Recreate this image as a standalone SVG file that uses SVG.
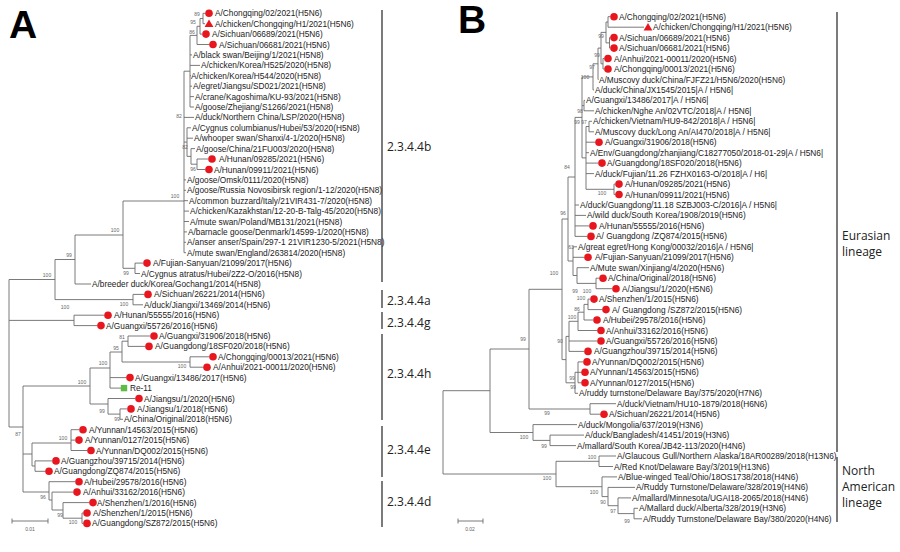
<svg xmlns="http://www.w3.org/2000/svg" xmlns:xlink="http://www.w3.org/1999/xlink" width="900" height="552" viewBox="0 0 900 552">
<style>
.t{font-family:"Liberation Sans",Arial,sans-serif;font-size:8.3px;fill:#222}
.b{font-family:"Liberation Sans",Arial,sans-serif;font-size:5px;fill:#666;text-anchor:middle}
.c{font-family:"Open Sans",sans-serif;font-size:12px;fill:#222}
.L{font-family:"Liberation Sans",Arial,sans-serif;font-weight:bold;font-size:39px;fill:#000}
.tree{fill:none;stroke:#6b6b6b;stroke-width:0.9}
.bar{stroke:#333;stroke-width:1.3}
</style>
<defs>
<circle id="dot" r="3.8" fill="#e8161e"/>
<path id="tri" d="M0,-4.3L4.4,3.3L-4.4,3.3Z" fill="#e8161e"/>
<rect id="sq" x="-3.2" y="-3.2" width="6.4" height="6.4" fill="#5dbb46"/>
</defs>
<rect width="900" height="552" fill="#fff"/>
<text class="L" x="9" y="38">A</text>
<text class="L" x="458" y="33">B</text>

<g id="connectors" class="tree">
<path d="M203,13.3V23.7M203,13.3H205.2M203,23.7H205M200,18.5V34.1M200,18.5H203M200,34.1H202.2M197,26.3V44.5M197,26.3H200M197,44.5H209.2M190,35.4V107M190,35.4H197M190,54.9H192M190,65.4H200M190,75.8H191M190,86.2H192M190,96.6H194M190,107H194M184,71.2V252.7M184,71.2H190M184,117.4H194M184,142.1H187M184,179.9H186M184,190.3H186M184,200.7H188M184,211.1H189M184,221.5H189M184,231.9H187M184,242.3H186M184,252.7H186M187,127.8V156.4M187,127.8H191M187,138.2H193M187,156.4H191M191,148.6V164.2M191,148.6H195M191,164.2H197M197,159V169.5M197,159H208.2M197,169.5H205.2"/>
<path d="M123,201H184M123,201V268.3M123,268.3H135M135,263.1V273.5M135,263.1H143.2M135,273.5H140M75,235V284M75,235H123M75,284H91M55,259.5V299.6M55,259.5H75M55,299.6H133M133,294.4V304.8M133,294.4H144.2M133,304.8H143M9,279.5V427M9,279.5H55M9,320.4H74M9,427H23M74,315.2V325.6M74,315.2H104.2M74,325.6H97.2"/>
<path d="M23,386V492M23,386H90M23,454H32M23,492H49M90,368V404M90,368H110M90,404H108M110,352V388.1M110,352H122M110,377.6H126.2M110,388.1H121M122,341.2V362M122,341.2H128M122,362H190M128,336V346.4M128,336H150.2M128,346.4H145.2M190,356.8V367.2M190,356.8H209.2M190,367.2H203.2M108,398.5V414.1M108,398.5H135.2M108,414.1H120M120,408.9V419.3M120,408.9H127.2M120,419.3H123M32,443V466M32,443H71M32,466H35M71,429.7V450.5M71,429.7H79.2M71,440.1H75.2M71,450.5H87.2M35,460.9V471.3M35,460.9H52.2M35,471.3H45.2M49,481.7V500M49,481.7H75.2M49,500H52M52,492.1V510M52,492.1H73.2M52,510H63M63,502.6V518.2M63,502.6H89.2M63,518.2H82M82,513V523.4M82,513H83.2M82,523.4H83.2"/>
<path d="M12,521H48M12,518.5V523.5M48,518.5V523.5"/>
<path d="M608,16.7V27.2M608,16.7H610.2M608,27.2H644M609.5,37.6V48.1M609.5,37.6H610.2M609.5,48.1H610.2M606,22V42.9M606,22H608M606,42.9H609.5M603,58.5V69M603,58.5H604.2M603,69H604.2M601,32.4V63.8M601,32.4H606M601,63.8H603M598,48.1V79.5M598,48.1H601M598,79.5H598.5M593,63.8V89.9M593,63.8H598M593,89.9H594M584,100.4V110.8M584,100.4H585M584,110.8H594M589,121.3V131.8M589,121.3H592M589,131.8H594M614,184.1V194.5M614,184.1H615.2M614,194.5H615.2M586,126.5V189.3M586,126.5H589M586,142.2H595.2M586,152.7H589M586,163.1H598.2M586,173.6H594M586,189.3H614M582,76.9V157.9M582,76.9H593M582,105.6H584M582,157.9H586"/>
<path d="M575,117.4V236.4M575,117.4H582M575,205H579M575,215.4H586M575,225.9H589.2M575,236.4H587.2M577,267.7V283.4M577,267.7H589M577,283.4H596M596,278.2V288.7M596,278.2H599.2M596,288.7H612.2M573,246.8V275.5M573,246.8H577M573,257.3H584.2M573,275.5H577M568,177V261M568,177H575M568,261H573"/>
<path d="M588,299.1V309.6M588,299.1H590.2M588,309.6H602.2M584,304.4V320M584,304.4H588M584,320H593.2M578,312.2V330.5M578,312.2H584M578,330.5H597.2M569,321.3V351.4M569,321.3H578M569,341H597.2M569,351.4H584.2M578,361.9V382.8M578,361.9H583.2M578,372.3H581.2M578,382.8H581.2M575,372.3V393.3M575,372.3H578M575,393.3H578M566,336.4V382.8M566,336.4H569M566,382.8H575M562,219V359.6M562,219H568M562,359.6H566"/>
<path d="M590,403.7V414.2M590,403.7H616M590,414.2H600.2M529,289.3V409M529,289.3H562M529,409H590M550,435.1V445.6M550,435.1H584M550,445.6H576M533,424.6V440.4M533,424.6H577M533,440.4H550M490,349V432.5M490,349H529M490,432.5H533M599,456V466.5M599,456H616M599,466.5H613M634,508.3V518.8M634,508.3H638M634,518.8H642M618,497.9V513.6M618,497.9H631M618,513.6H634M608,487.4V505.7M608,487.4H635M608,505.7H618M602,476.9V496.6M602,476.9H617M602,496.6H608M556,461.3V486.7M556,461.3H599M556,486.7H602M443,390.7V474M443,390.7H490M443,474H556"/>
<path d="M458,521H483M458,518.5V523.5M483,518.5V523.5"/>
</g>

<g id="bootstrap-a">
<text class="b" x="197" y="15.5">89</text>
<text class="b" x="193" y="23.5">95</text>
<text class="b" x="192" y="33.5">86</text>
<text class="b" x="179" y="117.5">82</text>
<text class="b" x="185" y="148.5">82</text>
<text class="b" x="193" y="170.5">96</text>
<text class="b" x="175" y="197.5">100</text>
<text class="b" x="115" y="231.5">100</text>
<text class="b" x="69" y="256.5">99</text>
<text class="b" x="47" y="276.5">100</text>
<text class="b" x="126" y="274.5">99</text>
<text class="b" x="124" y="305.5">100</text>
<text class="b" x="65" y="308.5">100</text>
<text class="b" x="122" y="338.5">81</text>
<text class="b" x="116" y="349.5">95</text>
<text class="b" x="182" y="367.5">100</text>
<text class="b" x="103" y="364.5">100</text>
<text class="b" x="82" y="383.5">100</text>
<text class="b" x="102" y="412.5">99</text>
<text class="b" x="117" y="420.5">99</text>
<text class="b" x="18" y="435.5">87</text>
<text class="b" x="63" y="439.5">100</text>
<text class="b" x="43" y="498.5">96</text>
<text class="b" x="60" y="516.5">99</text>
<text class="b" x="73" y="523.5">100</text>
<text class="b" x="30" y="531">0.01</text>
</g>

<g id="bootstrap-b">
<text class="b" x="601" y="37.5">99</text>
<text class="b" x="597" y="56.5">99</text>
<text class="b" x="592" y="68.5">97</text>
<text class="b" x="585" y="78.5">100</text>
<text class="b" x="580" y="112.5">98</text>
<text class="b" x="577" y="123.5">99</text>
<text class="b" x="584" y="123.5">97</text>
<text class="b" x="567" y="168.5">84</text>
<text class="b" x="602" y="194.5">100</text>
<text class="b" x="563" y="214.5">96</text>
<text class="b" x="571" y="248.5">63</text>
<text class="b" x="554" y="274.5">100</text>
<text class="b" x="575" y="292.5">99</text>
<text class="b" x="587" y="292.5">100</text>
<text class="b" x="581" y="299.5">100</text>
<text class="b" x="577" y="310.5">86</text>
<text class="b" x="572" y="318.5">100</text>
<text class="b" x="560" y="342.5">90</text>
<text class="b" x="572" y="379.5">99</text>
<text class="b" x="573" y="388.5">99</text>
<text class="b" x="523" y="340.5">99</text>
<text class="b" x="547" y="414.5">99</text>
<text class="b" x="524" y="438.5">100</text>
<text class="b" x="544" y="447.5">99</text>
<text class="b" x="592" y="458.5">100</text>
<text class="b" x="547" y="479.5">100</text>
<text class="b" x="594" y="493.5">100</text>
<text class="b" x="603" y="503.5">90</text>
<text class="b" x="613" y="512.5">97</text>
<text class="b" x="627" y="522.5">99</text>
<text class="b" x="470" y="531">0.02</text>
</g>

<g id="tips-a">
<g id="a01"><use href="#dot" x="209" y="13.3"/><text class="t" x="215" y="16.3">A/Chongqing/02/2021(H5N6)</text></g>
<g id="a02"><use href="#tri" x="209" y="23.7"/><text class="t" x="215" y="26.7">A/chicken/Chongqing/H1/2021(H5N6)</text></g>
<g id="a03"><use href="#dot" x="206" y="34.1"/><text class="t" x="212" y="37.1">A/Sichuan/06689/2021(H5N6)</text></g>
<g id="a04"><use href="#dot" x="213" y="44.5"/><text class="t" x="219" y="47.5">A/Sichuan/06681/2021(H5N6)</text></g>
<g id="a05"><text class="t" x="193" y="57.9">A/black swan/Beijing/1/2021(H5N8)</text></g>
<g id="a06"><text class="t" x="201" y="68.4">A/chicken/Korea/H525/2020(H5N8)</text></g>
<g id="a07"><text class="t" x="191" y="78.8">A/chicken/Korea/H544/2020(H5N8)</text></g>
<g id="a08"><text class="t" x="193" y="89.2">A/egret/Jiangsu/SD021/2021(H5N8)</text></g>
<g id="a09"><text class="t" x="195" y="99.6">A/crane/Kagoshima/KU-93/2021(H5N8)</text></g>
<g id="a10"><text class="t" x="195" y="110">A/goose/Zhejiang/S1266/2021(H5N8)</text></g>
<g id="a11"><text class="t" x="195" y="120.4">A/duck/Northern China/LSP/2020(H5N8)</text></g>
<g id="a12"><text class="t" x="192" y="130.8">A/Cygnus columbianus/Hubei/53/2020(H5N8)</text></g>
<g id="a13"><text class="t" x="194" y="141.2">A/whooper swan/Shanxi/4-1/2020(H5N8)</text></g>
<g id="a14"><text class="t" x="196" y="151.6">A/goose/China/21FU003/2020(H5N8)</text></g>
<g id="a15"><use href="#dot" x="212" y="159"/><text class="t" x="219" y="162">A/Hunan/09285/2021(H5N6)</text></g>
<g id="a16"><use href="#dot" x="209" y="169.5"/><text class="t" x="214" y="172.5">A/Hunan/09911/2021(H5N6)</text></g>
<g id="a17"><text class="t" x="187" y="182.9">A/goose/Omsk/0111/2020(H5N8)</text></g>
<g id="a18"><text class="t" x="187" y="193.3">A/goose/Russia Novosibirsk region/1-12/2020(H5N8)</text></g>
<g id="a19"><text class="t" x="189" y="203.7">A/common buzzard/Italy/21VIR431-7/2020(H5N8)</text></g>
<g id="a20"><text class="t" x="190" y="214.1">A/chicken/Kazakhstan/12-20-B-Talg-45/2020(H5N8)</text></g>
<g id="a21"><text class="t" x="190" y="224.5">A/mute swan/Poland/MB131/2021(H5N8)</text></g>
<g id="a22"><text class="t" x="188" y="234.9">A/barnacle goose/Denmark/14599-1/2020(H5N8)</text></g>
<g id="a23"><text class="t" x="187" y="245.3">A/anser anser/Spain/297-1 21VIR1230-5/2021(H5N8)</text></g>
<g id="a24"><text class="t" x="187" y="255.7">A/mute swan/England/263814/2020(H5N8)</text></g>
<g id="a25"><use href="#dot" x="147" y="263.1"/><text class="t" x="153" y="266.1">A/Fujian-Sanyuan/21099/2017(H5N6)</text></g>
<g id="a26"><text class="t" x="141" y="276.5">A/Cygnus atratus/Hubei/2Z2-O/2016(H5N8)</text></g>
<g id="a27"><text class="t" x="92" y="287">A/breeder duck/Korea/Gochang1/2014(H5N8)</text></g>
<g id="a28"><use href="#dot" x="148" y="294.4"/><text class="t" x="154" y="297.4">A/Sichuan/26221/2014(H5N6)</text></g>
<g id="a29"><text class="t" x="144" y="307.8">A/duck/Jiangxi/13469/2014(H5N6)</text></g>
<g id="a30"><use href="#dot" x="108" y="315.2"/><text class="t" x="114" y="318.2">A/Hunan/55555/2016(H5N6)</text></g>
<g id="a31"><use href="#dot" x="101" y="325.6"/><text class="t" x="106" y="328.6">A/Guangxi/55726/2016(H5N6)</text></g>
<g id="a32"><use href="#dot" x="154" y="336"/><text class="t" x="159" y="339">A/Guangxi/31906/2018(H5N6)</text></g>
<g id="a33"><use href="#dot" x="149" y="346.4"/><text class="t" x="155" y="349.4">A/Guangdong/18SF020/2018(H5N6)</text></g>
<g id="a34"><use href="#dot" x="213" y="356.8"/><text class="t" x="218" y="359.8">A/Chongqing/00013/2021(H5N6)</text></g>
<g id="a35"><use href="#dot" x="207" y="367.2"/><text class="t" x="213" y="370.2">A/Anhui/2021-00011/2020(H5N6)</text></g>
<g id="a36"><use href="#dot" x="130" y="377.6"/><text class="t" x="135" y="380.6">A/Guangxi/13486/2017(H5N6)</text></g>
<g id="a37"><use href="#sq" x="124" y="388.1"/><text class="t" x="130" y="391.1">Re-11</text></g>
<g id="a38"><use href="#dot" x="139" y="398.5"/><text class="t" x="144" y="401.5">A/Jiangsu/1/2020(H5N6)</text></g>
<g id="a39"><use href="#dot" x="131" y="408.9"/><text class="t" x="137" y="411.9">A/Jiangsu/1/2018(H5N6)</text></g>
<g id="a40"><text class="t" x="124" y="422.3">A/China/Original/2018(H5N6)</text></g>
<g id="a41"><use href="#dot" x="83" y="429.7"/><text class="t" x="89" y="432.7">A/Yunnan/14563/2015(H5N6)</text></g>
<g id="a42"><use href="#dot" x="79" y="440.1"/><text class="t" x="85" y="443.1">A/Yunnan/0127/2015(H5N6)</text></g>
<g id="a43"><use href="#dot" x="91" y="450.5"/><text class="t" x="96" y="453.5">A/Yunnan/DQ002/2015(H5N6)</text></g>
<g id="a44"><use href="#dot" x="56" y="460.9"/><text class="t" x="61" y="463.9">A/Guangzhou/39715/2014(H5N6)</text></g>
<g id="a45"><use href="#dot" x="49" y="471.3"/><text class="t" x="54" y="474.3">A/Guangdong/ZQ874/2015(H5N6)</text></g>
<g id="a46"><use href="#dot" x="79" y="481.7"/><text class="t" x="84" y="484.7">A/Hubei/29578/2016(H5N6)</text></g>
<g id="a47"><use href="#dot" x="77" y="492.1"/><text class="t" x="83" y="495.1">A/Anhui/33162/2016(H5N6)</text></g>
<g id="a48"><use href="#dot" x="93" y="502.6"/><text class="t" x="97" y="505.6">A/Shenzhen/1/2016(H5N6)</text></g>
<g id="a49"><use href="#dot" x="87" y="513"/><text class="t" x="93" y="516">A/Shenzhen/1/2015(H5N6)</text></g>
<g id="a50"><use href="#dot" x="87" y="523.4"/><text class="t" x="92" y="526.4">A/Guangdong/SZ872/2015(H5N6)</text></g>
</g>

<g id="tips-b">
<g id="b01"><use href="#dot" x="614" y="16.7"/><text class="t" x="619" y="19.7">A/Chongqing/02/2021(H5N6)</text></g>
<g id="b02"><use href="#tri" x="648" y="27.2"/><text class="t" x="653" y="30.2">A/chicken/Chongqing/H1/2021(H5N6)</text></g>
<g id="b03"><use href="#dot" x="614" y="37.6"/><text class="t" x="619" y="40.6">A/Sichuan/06689/2021(H5N6)</text></g>
<g id="b04"><use href="#dot" x="614" y="48.1"/><text class="t" x="619" y="51.1">A/Sichuan/06681/2021(H5N6)</text></g>
<g id="b05"><use href="#dot" x="608" y="58.5"/><text class="t" x="614" y="61.5">A/Anhui/2021-00011/2020(H5N6)</text></g>
<g id="b06"><use href="#dot" x="608" y="69"/><text class="t" x="614" y="72">A/Chongqing/00013/2021(H5N6)</text></g>
<g id="b07"><text class="t" x="599" y="82.5">A/Muscovy duck/China/FJFZ21/H5N6/2020(H5N6)</text></g>
<g id="b08"><text class="t" x="595" y="92.9">A/duck/China/JX1545/2015|A / H5N6|</text></g>
<g id="b09"><text class="t" x="586" y="103.4">A/Guangxi/13486/2017|A / H5N6|</text></g>
<g id="b10"><text class="t" x="595" y="113.8">A/chicken/Nghe An/02VTC/2018|A / H5N6|</text></g>
<g id="b11"><text class="t" x="593" y="124.3">A/chicken/Vietnam/HU9-842/2018|A / H5N6|</text></g>
<g id="b12"><text class="t" x="595" y="134.8">A/Muscovy duck/Long An/AI470/2018|A / H5N6|</text></g>
<g id="b13"><use href="#dot" x="599" y="142.2"/><text class="t" x="605" y="145.2">A/Guangxi/31906/2018(H5N6)</text></g>
<g id="b14"><text class="t" x="590" y="155.7">A/Env/Guangdong/zhanjiang/C18277050/2018-01-29|A / H5N6|</text></g>
<g id="b15"><use href="#dot" x="602" y="163.1"/><text class="t" x="607" y="166.1">A/Guangdong/18SF020/2018(H5N6)</text></g>
<g id="b16"><text class="t" x="595" y="176.6">A/duck/Fujian/11.26 FZHX0163-O/2018|A / H6|</text></g>
<g id="b17"><use href="#dot" x="619" y="184.1"/><text class="t" x="625" y="187.1">A/Hunan/09285/2021(H5N6)</text></g>
<g id="b18"><use href="#dot" x="619" y="194.5"/><text class="t" x="625" y="197.5">A/Hunan/09911/2021(H5N6)</text></g>
<g id="b19"><text class="t" x="580" y="208">A/duck/Guangdong/11.18 SZBJ003-C/2016|A / H5N6|</text></g>
<g id="b20"><text class="t" x="587" y="218.4">A/wild duck/South Korea/1908/2019(H5N6)</text></g>
<g id="b21"><use href="#dot" x="593" y="225.9"/><text class="t" x="599" y="228.9">A/Hunan/55555/2016(H5N6)</text></g>
<g id="b22"><use href="#dot" x="591" y="236.4"/><text class="t" x="596" y="239.4">A/ Guangdong /ZQ874/2015(H5N6)</text></g>
<g id="b23"><text class="t" x="578" y="249.8">A/great egret/Hong Kong/00032/2016|A / H5N6|</text></g>
<g id="b24"><use href="#dot" x="588" y="257.3"/><text class="t" x="595" y="260.3">A/Fujian-Sanyuan/21099/2017(H5N6)</text></g>
<g id="b25"><text class="t" x="590" y="270.7">A/Mute swan/Xinjiang/4/2020(H5N6)</text></g>
<g id="b26"><use href="#dot" x="603" y="278.2"/><text class="t" x="608" y="281.2">A/China/Original/2018(H5N6)</text></g>
<g id="b27"><use href="#dot" x="616" y="288.7"/><text class="t" x="622" y="291.7">A/Jiangsu/1/2020(H5N6)</text></g>
<g id="b28"><use href="#dot" x="594" y="299.1"/><text class="t" x="599" y="302.1">A/Shenzhen/1/2015(H5N6)</text></g>
<g id="b29"><use href="#dot" x="606" y="309.6"/><text class="t" x="612" y="312.6">A/ Guangdong /SZ872/2015(H5N6)</text></g>
<g id="b30"><use href="#dot" x="597" y="320"/><text class="t" x="603" y="323">A/Hubei/29578/2016(H5N6)</text></g>
<g id="b31"><use href="#dot" x="601" y="330.5"/><text class="t" x="606" y="333.5">A/Anhui/33162/2016(H5N6)</text></g>
<g id="b32"><use href="#dot" x="601" y="341"/><text class="t" x="606" y="344">A/Guangxi/55726/2016(H5N6)</text></g>
<g id="b33"><use href="#dot" x="588" y="351.4"/><text class="t" x="594" y="354.4">A/Guangzhou/39715/2014(H5N6)</text></g>
<g id="b34"><use href="#dot" x="587" y="361.9"/><text class="t" x="592" y="364.9">A/Yunnan/DQ002/2015(H5N6)</text></g>
<g id="b35"><use href="#dot" x="585" y="372.3"/><text class="t" x="590" y="375.3">A/Yunnan/14563/2015(H5N6)</text></g>
<g id="b36"><use href="#dot" x="585" y="382.8"/><text class="t" x="590" y="385.8">A/Yunnan/0127/2015(H5N6)</text></g>
<g id="b37"><text class="t" x="579" y="396.3">A/ruddy turnstone/Delaware Bay/375/2020(H7N6)</text></g>
<g id="b38"><text class="t" x="617" y="406.7">A/duck/Vietnam/HU10-1879/2018(H6N6)</text></g>
<g id="b39"><use href="#dot" x="604" y="414.2"/><text class="t" x="609" y="417.2">A/Sichuan/26221/2014(H5N6)</text></g>
<g id="b40"><text class="t" x="578" y="427.6">A/duck/Mongolia/637/2019(H3N6)</text></g>
<g id="b41"><text class="t" x="585" y="438.1">A/duck/Bangladesh/41451/2019(H3N6)</text></g>
<g id="b42"><text class="t" x="577" y="448.6">A/mallard/South Korea/JB42-113/2020(H4N6)</text></g>
<g id="b43"><text class="t" x="617" y="459">A/Glaucous Gull/Northern Alaska/18AR00289/2018(H13N6)</text></g>
<g id="b44"><text class="t" x="614" y="469.5">A/Red Knot/Delaware Bay/3/2019(H13N6)</text></g>
<g id="b45"><text class="t" x="618" y="479.9">A/Blue-winged Teal/Ohio/18OS1738/2018(H4N6)</text></g>
<g id="b46"><text class="t" x="636" y="490.4">A/Ruddy Turnstone/Delaware/328/2019(H4N6)</text></g>
<g id="b47"><text class="t" x="632" y="500.9">A/mallard/Minnesota/UGAI18-2065/2018(H4N6)</text></g>
<g id="b48"><text class="t" x="639" y="511.3">A/Mallard duck/Alberta/328/2019(H3N6)</text></g>
<g id="b49"><text class="t" x="643" y="521.8">A/Ruddy Turnstone/Delaware Bay/380/2020(H4N6)</text></g>
</g>

<g id="clades-a">
<g id="c-4b"><line class="bar" x1="382" y1="10" x2="382" y2="282"/><text class="c" x="387" y="151">2.3.4.4b</text></g>
<g id="c-4a"><line class="bar" x1="382" y1="290" x2="382" y2="308"/><text class="c" x="387" y="305">2.3.4.4a</text></g>
<g id="c-4g"><line class="bar" x1="382" y1="312" x2="382" y2="329"/><text class="c" x="387" y="327">2.3.4.4g</text></g>
<g id="c-4h"><line class="bar" x1="382" y1="334" x2="382" y2="420"/><text class="c" x="387" y="378">2.3.4.4h</text></g>
<g id="c-4e"><line class="bar" x1="382" y1="426" x2="382" y2="477"/><text class="c" x="387" y="454">2.3.4.4e</text></g>
<g id="c-4d"><line class="bar" x1="382" y1="481" x2="382" y2="527"/><text class="c" x="387" y="506">2.3.4.4d</text></g>
</g>
<g id="clades-b">
<g id="c-eur"><line class="bar" x1="837" y1="12" x2="837" y2="452"/><text class="c" x="842" y="240">Eurasian</text><text class="c" x="842" y="256">lineage</text></g>
<g id="c-na"><line class="bar" x1="837" y1="457" x2="837" y2="522"/><text class="c" x="842" y="475">North</text><text class="c" x="842" y="491">American</text><text class="c" x="842" y="507">lineage</text></g>
</g>
</svg>
